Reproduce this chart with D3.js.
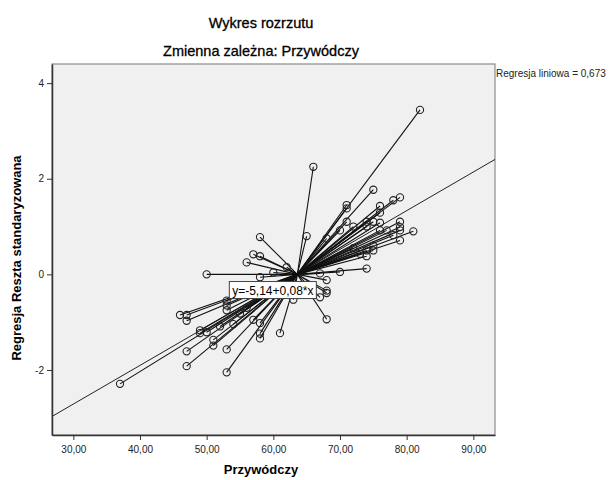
<!DOCTYPE html>
<html>
<head>
<meta charset="utf-8">
<script src="https://cdnjs.cloudflare.com/ajax/libs/d3/7.8.5/d3.min.js"></script>
<style>
  body { margin: 0; background: #fff; }
  svg text { font-family: "Liberation Sans", Arial, sans-serif; }
</style>
</head>
<body>
<svg id="chart"></svg>
<script>
// Przywódczy (x) and standardized residual (y)
var przywodczy = [82, 66, 75, 71, 71, 76, 76, 78, 79, 71, 70, 72, 68, 65, 75, 76, 74, 79, 79, 81,
  76, 77, 78, 79, 79, 75, 75, 74, 74, 73, 74, 70, 67, 68, 58, 57, 58, 56, 62, 60,
  58, 50, 46, 47, 47, 53, 53, 53, 49, 49, 50, 52, 51, 51, 47, 47, 53, 53, 37, 54,
  58, 58, 58, 61, 68, 68, 67, 63, 68, 55, 56, 57, 59, 74, 72];
var reszta = [3.44, 2.25, 1.77, 1.45, 1.38, 1.43, 1.29, 1.55, 1.61, 1.10, 0.92, 1.00, 0.75, 0.80, 1.10, 1.08, 1.00, 1.10, 0.92, 0.90,
  0.92, 0.92, 0.82, 0.71, 0.99, 0.60, 0.50, 0.50, 0.38, 0.43, 0.12, 0.05, 0.02, -0.12, 0.78, 0.42, 0.38, 0.25, 0.15, 0.04,
  -0.06, 0.00, -0.85, -0.85, -0.97, -0.55, -0.65, -0.75, -1.17, -1.23, -1.21, -1.09, -1.37, -1.49, -1.61, -1.92, -1.57, -2.05, -2.29, -1.04,
  -1.02, -1.24, -1.34, -1.23, -0.34, -0.39, -0.48, -0.53, -0.94, -0.82, -0.70, -0.95, -0.35, 1.10, 0.55];

// centroid the spikes go to
var centroid = [63.6, 0];

// fit line y = a + b*x
var intercept = -5.14;
var slope = 0.0809;
var fitLabel = "y=-5,14+0,08*x";
var r2Label = "Regresja liniowa = 0,673";

var xTicks = [30, 40, 50, 60, 70, 80, 90];
var yTicks = [-2, 0, 2, 4];

var width = 613, height = 480;
var margin = { top: 64, right: 118, bottom: 45, left: 52 };
var plotW = width - margin.left - margin.right;
var plotH = height - margin.top - margin.bottom;

var svg = d3.select("#chart")
  .attr("width", width)
  .attr("height", height);

var xScale = d3.scaleLinear().domain([26.8, 93.25]).range([0, plotW]);
var yScale = d3.scaleLinear().domain([-3.36, 4.40]).range([plotH, 0]);

var fmt = function (d) { return d.toFixed(2).replace(".", ","); };

// titles
svg.append("text")
  .attr("x", 261).attr("y", 28)
  .attr("text-anchor", "middle")
  .style("font-size", "14.5px")
  .attr("fill", "#000")
  .attr("stroke", "#000").attr("stroke-width", 0.3)
  .text("Wykres rozrzutu");

svg.append("text")
  .attr("x", 261).attr("y", 56)
  .attr("text-anchor", "middle")
  .style("font-size", "14.5px")
  .attr("fill", "#000")
  .attr("stroke", "#000").attr("stroke-width", 0.3)
  .text("Zmienna zależna: Przywódczy");

var chart = svg.append("g")
  .attr("transform", "translate(" + margin.left + "," + margin.top + ")");

// plot background
chart.append("rect")
  .attr("width", plotW).attr("height", plotH)
  .attr("fill", "#f0f0f0")
  .attr("stroke", "#8c8c8c")
  .attr("stroke-width", 1.2);

var clip = chart.append("clipPath").attr("id", "clip");
clip.append("rect").attr("width", plotW).attr("height", plotH);

var inner = chart.append("g").attr("clip-path", "url(#clip)");

// regression line
var x0 = xScale.domain()[0], x1 = xScale.domain()[1];
inner.append("line")
  .attr("x1", xScale(x0)).attr("y1", yScale(intercept + slope * x0))
  .attr("x2", xScale(x1)).attr("y2", yScale(intercept + slope * x1))
  .attr("stroke", "#222")
  .attr("stroke-width", 1);

var points = przywodczy.map(function (d, i) { return { x: d, y: reszta[i] }; });

// spikes to centroid
inner.selectAll(".spike")
  .data(points)
  .enter()
  .append("line")
  .attr("class", "spike")
  .attr("x1", xScale(centroid[0])).attr("y1", yScale(centroid[1]))
  .attr("x2", function (d) { return xScale(d.x); })
  .attr("y2", function (d) { return yScale(d.y); })
  .attr("stroke", "#111")
  .attr("stroke-width", 1.1);

// points
inner.selectAll(".dot")
  .data(points)
  .enter()
  .append("circle")
  .attr("class", "dot")
  .attr("cx", function (d) { return xScale(d.x); })
  .attr("cy", function (d) { return yScale(d.y); })
  .attr("r", 3.6)
  .attr("fill", "none")
  .attr("stroke", "#222")
  .attr("stroke-width", 1.1);

// fit label box
var lbl = chart.append("g")
  .attr("transform", "translate(" + xScale(53.4) + "," + yScale(-0.15) + ")");
lbl.append("rect")
  .attr("width", 87).attr("height", 17)
  .attr("fill", "#fff")
  .attr("stroke", "#444")
  .attr("stroke-width", 1);
lbl.append("text")
  .attr("x", 43.5).attr("y", 13)
  .attr("text-anchor", "middle")
  .style("font-size", "12px")
  .text(fitLabel);

// axes
var yAxis = chart.append("g")
  .call(d3.axisLeft(yScale).tickValues(yTicks).tickSize(5).tickSizeOuter(0).tickFormat(d3.format("d")));
var xAxis = chart.append("g")
  .attr("transform", "translate(0," + plotH + ")")
  .call(d3.axisBottom(xScale).tickValues(xTicks).tickSize(5).tickSizeOuter(0).tickFormat(fmt));

[xAxis, yAxis].forEach(function (ax) {
  ax.select(".domain").attr("stroke", "#333").attr("stroke-width", 1.5);
  ax.selectAll(".tick line").attr("stroke", "#333");
  ax.selectAll(".tick text")
    .style("font-family", "'Liberation Sans', Arial, sans-serif")
    .style("font-size", "10px")
    .attr("fill", "#222");
});
xAxis.selectAll(".tick text").attr("dy", "0.95em");
yAxis.selectAll(".tick text").text(function (d) { return d < 0 ? "-" + Math.abs(d) : d; });

// axis titles
svg.append("text")
  .attr("x", 261).attr("y", 474)
  .attr("text-anchor", "middle")
  .style("font-size", "13px")
  .style("font-weight", "bold")
  .text("Przywódczy");

svg.append("text")
  .attr("transform", "translate(21,258) rotate(-90)")
  .attr("text-anchor", "middle")
  .style("font-size", "13px")
  .style("font-weight", "bold")
  .text("Regresja Reszta standaryzowana");

// R² text at right of plot
svg.append("text")
  .attr("x", margin.left + plotW + 1).attr("y", 77)
  .style("font-size", "10px")
  .attr("fill", "#222")
  .text(r2Label);
</script>
</body>
</html>
